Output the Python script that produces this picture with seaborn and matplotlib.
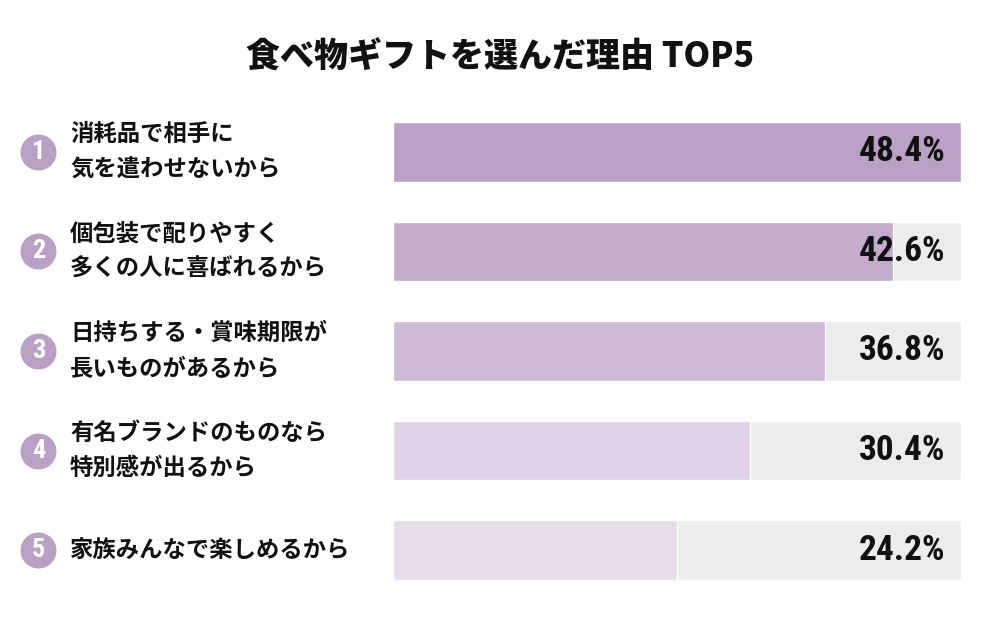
import matplotlib
matplotlib.use("Agg")
import matplotlib.pyplot as plt
import matplotlib.transforms as mtransforms
import seaborn as sns
import pandas as pd

sns.set_style("white")
plt.rcParams['font.family'] = ['Noto Sans CJK JP', 'DejaVu Sans']

title = '食べ物ギフトを選んだ理由 TOP5'
ranks = ['1', '2', '3', '4', '5']
reasons = ['消耗品で相手に\n気を遣わせないから',
           '個包装で配りやすく\n多くの人に喜ばれるから',
           '日持ちする・賞味期限が\n長いものがあるから',
           '有名ブランドのものなら\n特別感が出るから',
           '家族みんなで楽しめるから']
values = [48.4, 42.6, 36.8, 30.4, 24.2]
bar_colors = ['#b9a0c5', '#c3abcb', '#cdbbd5', '#e0d2e5', '#e8dcea']
bg_color = '#ececec'
circle_color = '#b9a0c5'

df = pd.DataFrame({'rank': ranks, 'reason': reasons, 'value': values})
df['full'] = max(values)

fig = plt.figure(figsize=(10, 6.19), dpi=100)
ax = fig.add_axes([0.393, 0.031, 0.568, 0.804])

sns.barplot(data=df, x='full', y='rank', color=bg_color, width=0.6,
            saturation=1, ax=ax)
sns.barplot(data=df, x='value', y='rank', hue='rank', palette=bar_colors,
            width=0.6, saturation=1, legend=False, ax=ax)

ax.set_xlim(0, max(values))
ax.set_ylim(len(ranks) - 0.5, -0.5)
ax.axis('off')

num_font = dict(family=['Roboto Condensed', 'Liberation Sans Narrow', 'DejaVu Sans'],
                stretch='condensed', weight='bold')

trans = mtransforms.blended_transform_factory(fig.transFigure, ax.transData)
ax.scatter([0.038] * len(ranks), range(len(ranks)), s=620, color=circle_color,
           transform=trans, clip_on=False, zorder=3)
for i, (r, txt, v) in enumerate(zip(ranks, reasons, values)):
    ax.text(0.0385, i, r, transform=trans, ha='center', va='center',
            color='white', fontsize=19, zorder=4, **num_font)
    ax.text(0.070, i, txt, transform=trans, ha='left', va='center',
            fontsize=16.8, weight='bold', color='#111111', linespacing=1.6)
    ax.text(max(values) * 0.972, i, f'{v}%', ha='right', va='center',
            fontsize=25.5, color='#111111', **num_font)

fig.text(0.5, 1 - 57 / 619, title, ha='center', va='center',
         fontsize=24.5, weight='heavy', color='#111111')

plt.savefig('out.png', dpi=100)
